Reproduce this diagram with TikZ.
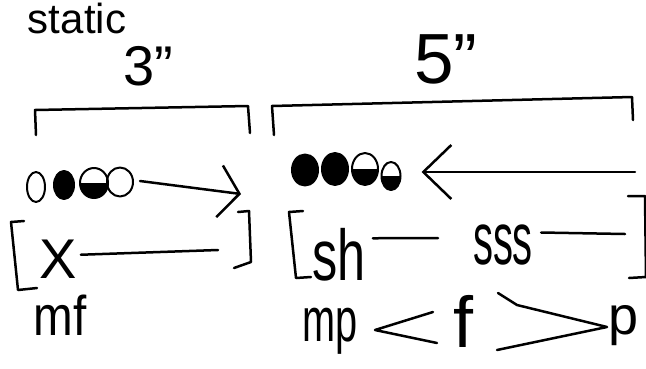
\documentclass[tikz,border=0pt]{standalone}
\usepackage{fontspec}
\setmainfont{Liberation Sans}
\usepackage{tikz}
\tikzset{>=latex}
\usetikzlibrary{shapes.geometric, arrows.meta}

\newcommand{\squeeze}[2]{\scalebox{#1}[1]{#2}}

\tikzset{
  hand/.style={inner sep=0pt, anchor=base, font=\fontsize{#1}{#1}\selectfont},
  bead/.style={ellipse, draw, line width=2pt, inner sep=0pt, minimum width=#1},
  full/.style={fill=black},
  half/.style={path picture={\fill (path picture bounding box.west) rectangle (path picture bounding box.south east);}}
}

\begin{document}
\begin{tikzpicture}[x=1pt, y=-1pt, line width=2.5pt, line cap=round, line join=round]
   \useasboundingbox (0,0) rectangle (646,368);

   % labels on top
   \node[hand=42] (static) at (77,33) {static};
   \node[hand=56] (three) at (148,85) {3"};
   \node[hand=71] (five) at (446,83) {5"};

   % the two spans
   \draw (36,135) -- (35,110) -- (248,106) -- (250,133);
   \draw (274,135) -- (272,106) -- (632,97) -- (633,120);

   % beads, left
   \node[bead=18pt, minimum height=30pt] (a1) at (36,187) {};
   \node[bead=20pt, minimum height=28pt, full] (a2) at (64,185) {};
   \node[bead=28pt, minimum height=30pt, half] (a3) at (94,183) {};
   \node[bead=26pt, minimum height=29pt] (a4) at (120,182) {};
   \coordinate (tipL) at (241,194);
   \draw[-{Straight Barb[length=20pt, width=52pt]}] ([xshift=6pt, yshift=1pt]a4.east) -- (tipL);

   % beads, right
   \node[bead=26pt, minimum height=31pt, full] (b1) at (305,170) {};
   \node[bead=26pt, minimum height=32pt, full] (b2) at (335,169) {};
   \node[bead=26pt, minimum height=32pt, half] (b3) at (365,169) {};
   \node[bead=19pt, minimum height=28pt, half] (b4) at (391,176) {};
   \coordinate (tailR) at (635,172);
   \draw[-{Straight Barb[length=28pt, width=54pt]}] (tailR) -- ([xshift=20pt, yshift=4pt]b4.east);

   % brackets, left
   \draw (24,221) -- (11,222) -- (18,290) -- (37,288);
   \draw (238,212) -- (249,211) -- (251,262) -- (234,268);
   \node[hand=56] (x) at (58,278) {X};
   \coordinate (xend) at (218,250);
   \draw ([xshift=3pt, yshift=4pt]x.east) -- (xend);
   \node[hand=56] (mf) at (60,335) {\squeeze{0.85}{mf}};

   % brackets, right
   \draw (303,211) -- (289,212) -- (296,278) -- (311,277);
   \draw (628,196) -- (645,196) -- (646,277) -- (629,278);
   \node[hand=72] (sh) at (339,280) {\squeeze{0.7}{sh}};
   \coordinate (shend) at (438,238);
   \draw ([xshift=6pt, yshift=16pt]sh.east) -- (shend);
   \node[hand=74] (sss) at (503,264) {\squeeze{0.54}{sss}};
   \coordinate (sssend) at (625,234);
   \draw ([xshift=7pt, yshift=12pt]sss.east) -- (sssend);

   % bottom line
   \node[hand=62] (mp) at (330,341) {\squeeze{0.64}{mp}};
   \node[hand=72] (f) at (463,347) {f};
   \node[hand=54] (p) at (624,334) {p};
   \draw (433,312) -- (375,330) -- (437,343);
   \draw (498,293) -- (517,305) -- (607,327) -- (497,350);

\end{tikzpicture}
\end{document}
